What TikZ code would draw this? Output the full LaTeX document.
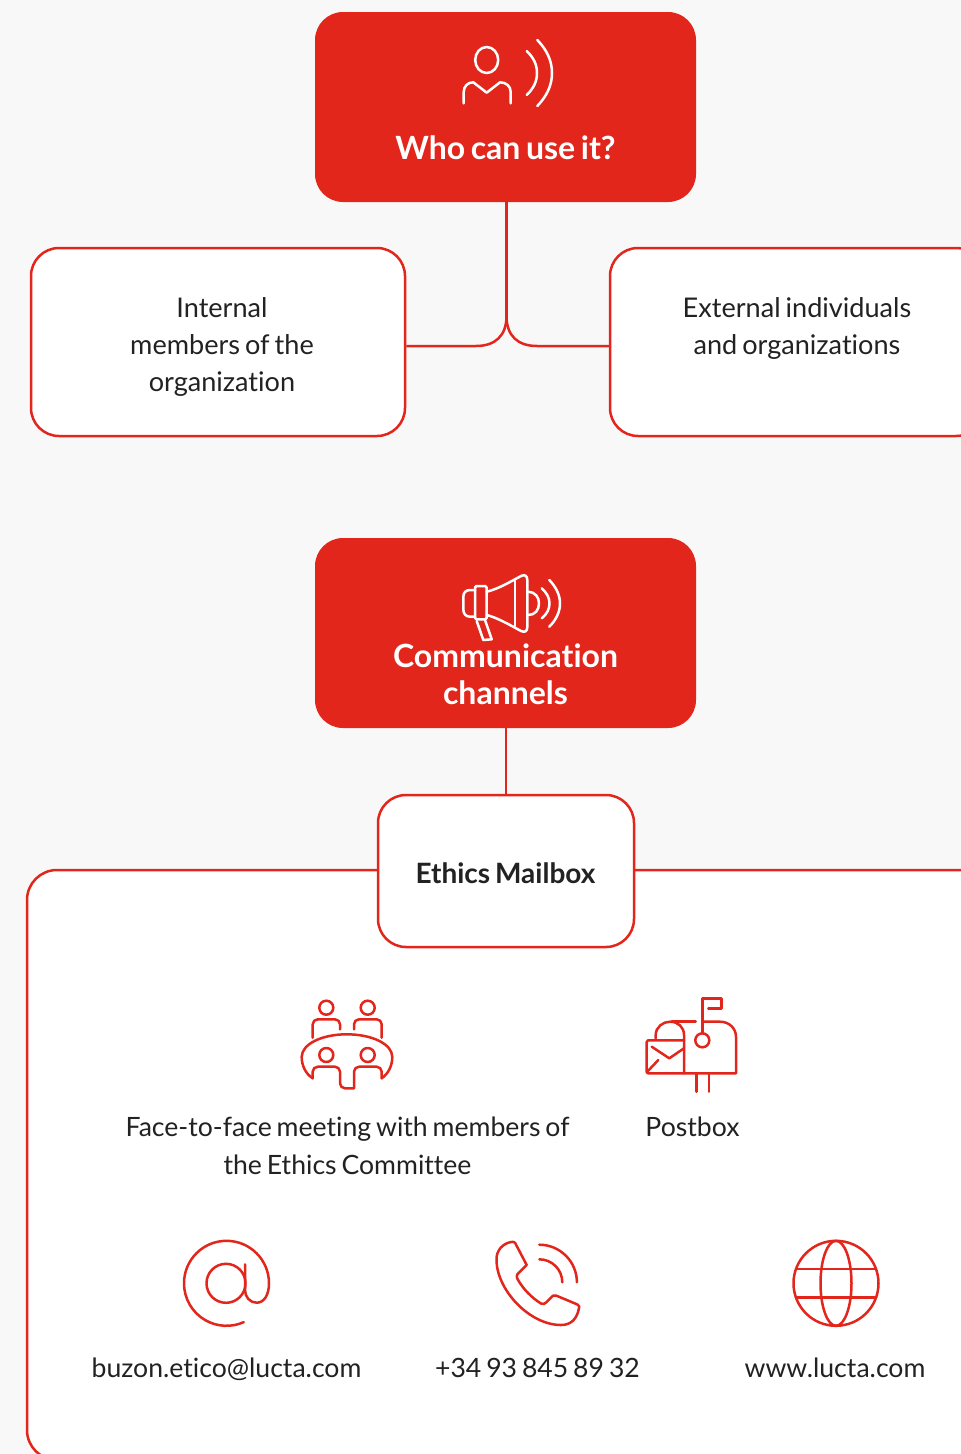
\documentclass[tikz,border=0pt]{standalone}
\usepackage{fontspec}
\setmainfont{Lato}[Ligatures=NoCommon, WordSpace=0.72]
\definecolor{luctared}{HTML}{E2261C}
\definecolor{pagegrey}{HTML}{F8F8F8}
\definecolor{inkgrey}{HTML}{222222}
\tikzset{
    headbox/.style={fill=luctared, rounded corners=28, minimum width=381, minimum height=190, inner sep=0},
    whitebox/.style={draw=luctared, line width=2.5, fill=white, rounded corners=28, minimum width=374, minimum height=188, inner sep=0},
    headtext/.style={text=white, align=center, inner sep=0, font=\fontsize{32}{37}\selectfont\bfseries},
    bodytext/.style={text=inkgrey, align=center, inner sep=0, font=\fontsize{26.6}{38}\selectfont},
    wire/.style={draw=luctared, line width=2.5},
    icon/.style={line width=2.5, line cap=round, line join=round},
}
\begin{document}
\begin{tikzpicture}[x=1pt, y=-1pt]
    \path[use as bounding box, clip] (0,0) rectangle (961,1454);
    \fill[pagegrey] (0,0) rectangle (961,1454);

    \node[headbox] (who) at (505.5,107) {};
    \node[headtext] (whotext) at (505.5,148) {Who can use it?};
    \node[whitebox] (internal) at (218,342) {};
    \node[whitebox] (external) at (797,342) {};
    \node[bodytext, font=\fontsize{27.1}{37}\selectfont] (internaltext) at (222,346.5) {Internal\\members of the\\organization};
    \node[bodytext, font=\fontsize{27.1}{37}\selectfont] (externaltext) at (797,328) {External individuals\\and organizations};
    \coordinate (fork) at (506.5,316);
    \draw[wire] (fork |- who.south) -- (fork);
    \draw[wire] (fork) .. controls (506.5,336) and (495,346) .. (476,346) -- ([yshift=-4]internal.east);
    \draw[wire] (fork) .. controls (506.5,336) and (518,346) .. (537,346) -- ([yshift=-4]external.west);

    \node[headbox] (channels) at (505.5,633) {};
    \node[headtext] (channelstext) at (505.5,674) {Communication\\channels};

    \node[whitebox, minimum width=973, minimum height=590, rounded corners=30] (panel) at (513.5,1165) {};
    \node[whitebox, minimum width=256, minimum height=152] (mailbox) at (506,871) {};
    \node[bodytext, font=\fontsize{28}{37}\selectfont\bfseries] (mailboxtext) at (505.5,873) {Ethics Mailbox};
    \draw[wire] (mailbox |- channels.south) -- (mailbox);

    \node[bodytext] (meeting) at (347.5,1146) {Face-to-face meeting with members of\\the Ethics Committee};
    \node[bodytext] (postbox) at (692.5,1127) {Postbox};
    \node[bodytext] (mail) at (226.5,1369.5) {buzon.etico@lucta.com};
    \node[bodytext] (phone) at (537.5,1368) {+34 93 845 89 32};
    \node[bodytext] (web) at (835,1368) {www.lucta.com};

    \begin{scope}[icon, draw=white]
        \draw (486.7,60) ellipse (11.5 and 13);
        \draw (463.7,103.3) -- (463.7,92) .. controls (463.7,86) and (468,82.3) .. (473.3,82.3) -- (486.7,92.7) -- (500,82.3) .. controls (506,82.3) and (510.7,86) .. (510.7,92) -- (510.7,103.3);
        \draw (526.7,51) .. controls (534,58) and (537,65) .. (537,73) .. controls (537,81) and (534,88) .. (526.7,95);
        \draw (537.3,40) .. controls (547,50) and (552,61) .. (552,73) .. controls (552,85) and (547,96) .. (537.3,106);
    \end{scope}

    \begin{scope}[icon, draw=white]
        \draw[rounded corners=1.5] (475,586) rectangle (486.7,619.3);
        \draw (475,590) -- (470,590) .. controls (465.5,590) and (463.3,593) .. (463.3,597) -- (463.3,609) .. controls (463.3,613.5) and (465.5,616.7) .. (470,616.7) -- (475,616.7);
        \draw (486.7,591.7) .. controls (498,589) and (510,582) .. (521,576) .. controls (525,574) and (527.3,576) .. (527.3,580) -- (527.3,627) .. controls (527.3,631) and (525,633) .. (521,631) .. controls (510,625) and (498,618) .. (486.7,615);
        \draw (515,581) -- (515,626);
        \draw (528.3,591.7) .. controls (535,592) and (539,597) .. (539,603.3) .. controls (539,610) and (535,615) .. (528.3,615);
        \draw (541.7,588.3) .. controls (547,593) and (549.5,598) .. (549.5,603.3) .. controls (549.5,609) and (547,614) .. (541.7,618.3);
        \draw (549.3,580) .. controls (556,587) and (560,595) .. (560,603.3) .. controls (560,612) and (556,620) .. (549.3,626.7);
        \draw (476.7,621) -- (483.3,640) -- (491.7,639.3) -- (485,620);
    \end{scope}

    \begin{scope}[icon, draw=luctared]
        \foreach \headx in {326.3,367.7} {
            \draw (\headx,1007.7) circle (7);
            \draw (\headx,1055) circle (7);
        }
        \draw[rounded corners=5] (312.7,1037.7) -- (312.7,1019.3) -- (340,1019.3) -- (340,1029.3);
        \draw[rounded corners=5] (354,1029.3) -- (354,1019.3) -- (381.7,1019.3) -- (381.7,1037.7);
        \draw (312.7,1078.3) .. controls (306,1074) and (301.7,1066) .. (301.7,1057) .. controls (301.7,1044) and (322,1034.3) .. (346.7,1034.3) .. controls (372,1034.3) and (392.3,1044) .. (392.3,1057) .. controls (392.3,1066) and (388,1074) .. (381.7,1078.3);
        \draw[rounded corners=5] (312.7,1078.3) -- (312.7,1066.7) -- (340,1066.7) -- (340,1088.3) [sharp corners] -- (354,1088.3) [rounded corners=5] -- (354,1066.7) -- (381.7,1066.7) -- (381.7,1078.3);
    \end{scope}

    \begin{scope}[icon, draw=luctared]
        \draw (708.3,1008.3) -- (721.7,1008.3) -- (721.7,998.3) -- (702.3,998.3) -- (702.3,1033.3);
        \draw (702.3,1040.3) circle (7);
        \draw (671.7,1021.7) -- (695.7,1021.7);
        \draw (702.3,1021.7) -- (720,1021.7) .. controls (729,1021.7) and (736,1028) .. (736,1037) -- (736,1073.3) -- (648,1073.3) -- (646.7,1072) -- (646.7,1042) -- (648,1040.3) -- (684,1040.3);
        \draw (655.7,1038.3) -- (655.7,1035) .. controls (655.7,1027) and (663,1021.7) .. (670,1021.7) .. controls (678,1021.7) and (684,1027) .. (684,1035) -- (684,1073.3);
        \draw (651.7,1046.7) -- (669.3,1058.3) -- (684,1048.3);
        \draw (646.7,1072.3) -- (658.3,1060);
        \draw (696.7,1074) -- (696.7,1091.7);
        \draw (709,1074) -- (709,1091.7);
    \end{scope}

    \begin{scope}[icon, draw=luctared]
        \draw (226,1283.3) circle (19.5);
        \draw (245,1264.3) -- (245,1290) .. controls (245,1297) and (250,1302.7) .. (256.7,1302.7) .. controls (264,1302.7) and (269,1295) .. (269,1283.3) arc[start angle=0, end angle=-294, radius=42.5];
    \end{scope}

    \begin{scope}[icon, draw=luctared]
        \draw (515,1242.7) -- (526.7,1265) -- (517.5,1274) .. controls (516.5,1275.5) and (516.5,1277) .. (517.5,1279) .. controls (523,1289) and (532,1298) .. (541,1303.5) .. controls (543,1304.5) and (544.5,1304) .. (546,1302.5) -- (553,1295.7) .. controls (554,1295) and (555,1295) .. (556,1295.5) -- (577.5,1304.5) .. controls (579,1305.5) and (579.5,1306.5) .. (579,1308) .. controls (577,1319) and (571,1325) .. (561,1325) .. controls (529,1325) and (496,1289) .. (496.5,1259) .. controls (496.5,1250) and (503,1243.5) .. (511,1242) .. controls (513,1241.8) and (514,1241.8) .. (515,1242.7);
        \draw (539.3,1259.3) arc[start angle=-90, end angle=0, radius=23];
        \draw (539.3,1244.7) arc[start angle=-90, end angle=0, radius=37.6];
    \end{scope}

    \begin{scope}[icon, draw=luctared]
        \draw (836,1283.3) circle (42.5);
        \draw (836,1283.3) ellipse (15.5 and 42.5);
        \draw (796,1269) -- (876,1269);
        \draw (796,1297.7) -- (876,1297.7);
    \end{scope}
\end{tikzpicture}
\end{document}
